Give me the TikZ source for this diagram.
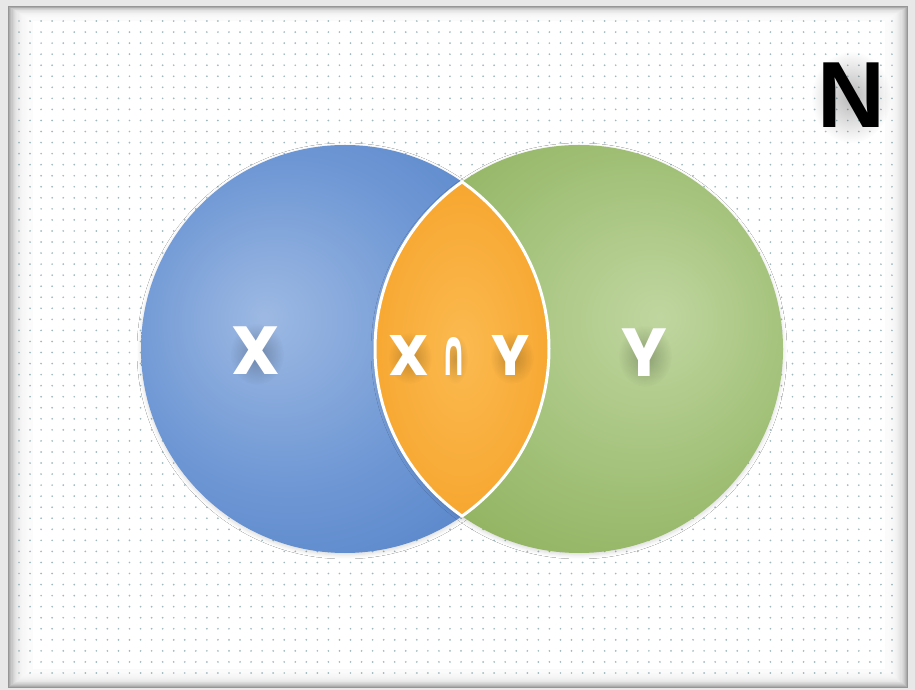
\documentclass[tikz,border=0pt]{standalone}
\usepackage{fontspec}
\usepackage{graphicx}
\usetikzlibrary{shadows.blur,calc,fadings}
\newfontfamily\labfont{Poppins}
\newfontfamily\capfont{DejaVu Sans}
\newfontfamily\nfont{Liberation Sans}
\definecolor{pagegray}{HTML}{E8E8E8}
\definecolor{framegray}{HTML}{969696}
\definecolor{dotc}{HTML}{9FB9BE}
\definecolor{bluein}{HTML}{9DB9E3}
\definecolor{bluemid}{HTML}{6E97D4}
\definecolor{blueout}{HTML}{4878C3}
\definecolor{bluerim}{HTML}{3664AC}
\definecolor{greenin}{HTML}{C0D6A0}
\definecolor{greenmid}{HTML}{A1C077}
\definecolor{greenout}{HTML}{80A648}
\definecolor{greenrim}{HTML}{668C33}
\definecolor{orangein}{HTML}{FBBA50}
\definecolor{orangemid}{HTML}{F7A731}
\definecolor{orangeout}{HTML}{EB9012}
\definecolor{orangerim}{HTML}{D27B07}
\pgfdeclareradialshading{blueball}{\pgfpoint{-10bp}{4bp}}{color(0bp)=(bluein); color(20bp)=(bluemid); color(44bp)=(blueout); color(52bp)=(bluerim); color(70bp)=(bluerim)}
\pgfdeclareradialshading{greenball}{\pgfpoint{10bp}{4bp}}{color(0bp)=(greenin); color(20bp)=(greenmid); color(44bp)=(greenout); color(52bp)=(greenrim); color(70bp)=(greenrim)}
\pgfdeclareradialshading{orangeball}{\pgfpoint{0bp}{0bp}}{color(0bp)=(orangein); color(25bp)=(orangemid); color(44bp)=(orangeout); color(50bp)=(orangerim); color(70bp)=(orangerim)}
\tikzset{
  ballshadow/.style={blur shadow={shadow xshift=0pt, shadow yshift=-2pt, shadow blur radius=4pt, shadow opacity=15}},
  lab/.style={inner sep=0pt, text=white},
  glow/.style={fill=black, path fading=fuzzyfade, opacity=#1},
}
\tikzfading[name=fuzzyfade, inner color=transparent!0, outer color=transparent!100]
\begin{document}
\begin{tikzpicture}[x=1pt,y=1pt]
\useasboundingbox (0,0) rectangle (915,690);
% page and inset frame
\fill[pagegray] (0,0) rectangle (915,690);
\fill[framegray] (8,2) rectangle (908,684);
\foreach \i in {0,...,19}
  \fill[white, fill opacity=0.2] (9+1.2*\i,3+0.9*\i) rectangle (907-1.1*\i,683-0.7*\i);
\fill[white] (33,21) rectangle (885,669);
% dotted background
\foreach \i in {0,...,79}
  \foreach \j in {0,...,59}
    \fill[dotc] (19+\i*11.05,17+\j*11.05) circle (0.95);
% circles
\coordinate (bc) at (345,341);
\coordinate (gc) at (579,341);
\pgfmathsetmacro\ang{acos(117/204)}
\path[ballshadow, shading=blueball] (bc) circle (204);
\path[ballshadow, shading=greenball] (gc) circle (204);
\coordinate (top) at ($(bc)+(\ang:204)$);
\coordinate (bot) at ($(bc)+(-\ang:204)$);
% lens
\path[shading=orangeball] (top) arc[start angle=180-\ang, end angle=180+\ang, radius=204]
  arc[start angle=-\ang, end angle=\ang, radius=204] -- cycle;
\draw[white, line width=3pt, line join=round] (top) arc[start angle=180-\ang, end angle=180+\ang, radius=204]
  arc[start angle=-\ang, end angle=\ang, radius=204] -- cycle;
% label positions
\coordinate (px) at (256,339);
\coordinate (py) at (644,337);
\coordinate (pix) at (409,335);
\coordinate (pcap) at (454,334);
\coordinate (piy) at (511,335);
\coordinate (pn) at (851,595);
% soft glows behind labels
\path[glow=0.25] ($(px)+(1,-3)$) ellipse (27 and 31);
\path[glow=0.25] ($(py)+(1,-3)$) ellipse (27 and 31);
\path[glow=0.22] ($(pix)+(1,-3)$) ellipse (22 and 26);
\path[glow=0.18] ($(pcap)+(1,-3)$) ellipse (13 and 25);
\path[glow=0.22] ($(piy)+(1,-3)$) ellipse (22 and 26);
\path[glow=0.28] ($(pn)+(0,-2)$) ellipse (40 and 46);
% labels
\node[lab] (lx) at (px) {\labfont\bfseries\fontsize{68}{70}\selectfont X};
\node[lab] (ly) at (py) {\labfont\bfseries\fontsize{68}{70}\selectfont Y};
\node[lab] (lix) at (pix) {\labfont\bfseries\fontsize{57}{60}\selectfont X};
\node[lab] (lcap) at (pcap) {\resizebox{25pt}{38pt}{\capfont\bfseries ∩}};
\node[lab] (liy) at (piy) {\labfont\bfseries\fontsize{57}{60}\selectfont Y};
\node[inner sep=0pt, text=black] (ln) at (pn) {\nfont\bfseries\fontsize{94}{96}\selectfont N};
\end{tikzpicture}
\end{document}
